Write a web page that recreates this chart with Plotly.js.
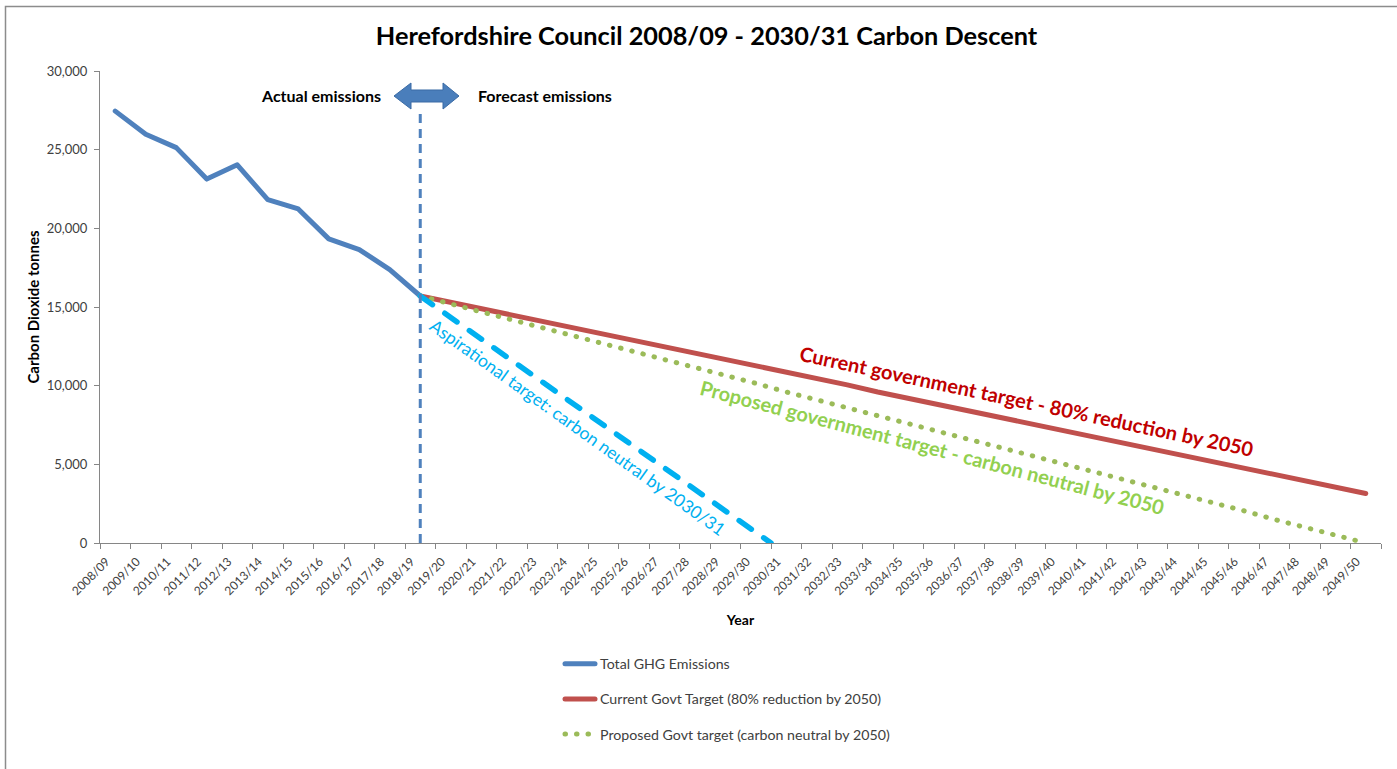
<!DOCTYPE html>
<html>
<head>
<meta charset="utf-8">
<script src="https://cdn.plot.ly/plotly-3.0.1.min.js"></script>
<style>
  html, body { margin: 0; padding: 0; background: #ffffff; }
  #chart { width: 1397px; height: 769px; }
  .js-line { stroke-linecap: round; stroke-linejoin: round; }
</style>
</head>
<body>
<div id="chart"></div>
<script>
// ---------------- DATA ----------------
const years = ["2008/09","2009/10","2010/11","2011/12","2012/13","2013/14","2014/15","2015/16","2016/17","2017/18",
  "2018/19","2019/20","2020/21","2021/22","2022/23","2023/24","2024/25","2025/26","2026/27","2027/28",
  "2028/29","2029/30","2030/31","2031/32","2032/33","2033/34","2034/35","2035/36","2036/37","2037/38",
  "2038/39","2039/40","2040/41","2041/42","2042/43","2043/44","2044/45","2045/46","2046/47","2047/48",
  "2048/49","2049/50"];

// Actual emissions 2008/09 - 2018/19
const actualYears = years.slice(0, 11);
const actualEmissions = [27450, 25980, 25130, 23130, 24040, 21820, 21230, 19330, 18650, 17380, 15700];

// Forecasts 2018/19 - 2049/50
const forecastYears = years.slice(10);
const currentGovtTarget = [15700, 15300, 14900, 14500, 14100, 13700, 13250, 12850, 12450, 12050,
  11650, 11250, 10850, 10450, 10050, 9600, 9200, 8800, 8400, 8000,
  7600, 7200, 6800, 6400, 6000, 5550, 5150, 4750, 4350, 3950, 3550, 3150];
const proposedGovtTarget = [15700, 15200, 14700, 14200, 13700, 13150, 12650, 12150, 11650, 11150,
  10650, 10150, 9600, 9100, 8600, 8100, 7600, 7100, 6600, 6100,
  5550, 5050, 4550, 4050, 3550, 3050, 2550, 2050, 1500, 1000, 500, 0];

// Aspirational target: drawn from 2018/19 down to zero at the start of 2030/31 (category-index positions)
const aspirationalPos = [10, 21.5];
const aspirationalValues = [15700, 0];

const yTicks = [0, 5000, 10000, 15000, 20000, 25000, 30000];

// ---------------- LAYOUT HELPERS ----------------
const W = 1397, H = 769;
const M = { l: 100, r: 16, t: 71, b: 226 };
const PW = W - M.l - M.r, PH = H - M.t - M.b;
const px = x => (x - M.l) / PW;
const py = y => (H - M.b - y) / PH;

const FONT = "Lato, 'Open Sans', sans-serif";
const BLUE = "#4F81BD", RED = "#C0504D", GREEN = "#9BBB59", CYAN = "#00B0F0";

const traces = [
  { x: actualYears, y: actualEmissions, name: "Total GHG Emissions", type: "scatter", mode: "lines",
    line: { color: BLUE, width: 5 }, legendgroup: "a" },
  { x: forecastYears, y: currentGovtTarget, name: "Current Govt Target (80% reduction by 2050)", type: "scatter", mode: "lines",
    line: { color: RED, width: 5 }, legendgroup: "b" },
  { x: forecastYears, y: proposedGovtTarget, name: "Proposed Govt target (carbon neutral by 2050)", type: "scatter", mode: "lines",
    line: { color: GREEN, width: 5, dash: "0.5px,11px" }, legendgroup: "c" },
  { x: aspirationalPos, y: aspirationalValues, xaxis: "x2", name: "Aspirational target", type: "scatter", mode: "lines",
    line: { color: CYAN, width: 5.5, dash: "15px,15px" }, showlegend: false }
];

// arrow path (pixel coords -> paper)
function P(pts) {
  return pts.map((p, i) => (i === 0 ? "M" : "L") + px(p[0]).toFixed(5) + "," + py(p[1]).toFixed(5)).join(" ") + " Z";
}
const arrowPath = P([[394,96],[411,83],[411,90],[443,90],[443,83],[459,96],[443,109],[443,102],[411,102],[411,109]]);

const layout = {
  width: W, height: H,
  margin: M,
  paper_bgcolor: "#ffffff", plot_bgcolor: "#ffffff",
  font: { family: FONT, color: "#404040" },
  title: { text: "<b>Herefordshire Council 2008/09 - 2030/31 Carbon Descent</b>",
    font: { size: 25.3, color: "#000000", family: FONT },
    xref: "container", yref: "container", x: 706.5 / W, y: 1 - 36 / H, xanchor: "center", yanchor: "middle" },
  xaxis: {
    type: "category", categoryorder: "array", categoryarray: years,
    range: [-0.5, 41.5], tickson: "boundaries", ticks: "outside", ticklen: 5, tickcolor: "#868686",
    showline: true, linecolor: "#868686", linewidth: 1, showgrid: false, zeroline: false,
    tickangle: -45, tickfont: { size: 12, color: "#404040" },
    ticklabelstandoff: 6, ticklabelshift: -9,
    title: { text: "<b>Year</b>", font: { size: 14, color: "#000000" }, standoff: 18 }
  },
  xaxis2: { overlaying: "x", range: [-0.5, 41.5], visible: false, type: "linear" },
  yaxis: {
    range: [0, 30000], tickvals: yTicks, tickformat: ",", ticks: "outside", ticklen: 5, tickcolor: "#868686",
    showline: true, linecolor: "#868686", linewidth: 1, showgrid: false, zeroline: false,
    tickfont: { size: 13, color: "#404040" }, ticklabelstandoff: 4,
    title: { text: "<b>Carbon Dioxide tonnes</b>", font: { size: 15, color: "#000000" }, standoff: 3 }
  },
  showlegend: true,
  legend: { x: px(560), y: py(648), xanchor: "left", yanchor: "top", orientation: "v",
    font: { size: 14.2, color: "#404040" }, tracegroupgap: 13.7, bgcolor: "rgba(0,0,0,0)" },
  shapes: [
    { type: "line", xref: "x", yref: "y", x0: "2018/19", x1: "2018/19", y0: 0, y1: 27300,
      line: { color: BLUE, width: 3, dash: "9px,6px" } },
    { type: "path", xref: "paper", yref: "paper", path: arrowPath, fillcolor: "#4A7EBB",
      line: { color: "#3A6BA5", width: 1 } },
    { type: "path", xref: "paper", yref: "paper",
      path: "M" + px(5.5) + "," + py(800) + " L" + px(5.5) + "," + py(6.5) + " L" + px(1420) + "," + py(6.5),
      line: { color: "#8C8C8C", width: 1.5 } }
  ],
  annotations: [
    { text: "<b>Actual emissions</b>", xref: "paper", yref: "paper", x: px(321), y: py(96),
      xanchor: "center", yanchor: "middle", showarrow: false, font: { size: 16, color: "#000000" } },
    { text: "<b>Forecast emissions</b>", xref: "paper", yref: "paper", x: px(545), y: py(96),
      xanchor: "center", yanchor: "middle", showarrow: false, font: { size: 16, color: "#000000" } },
    { text: "<b>Current government target - 80% reduction by 2050</b>", xref: "paper", yref: "paper",
      x: px(1027), y: py(401), xanchor: "center", yanchor: "middle", textangle: 12, showarrow: false,
      font: { size: 20, color: "#C00000" } },
    { text: "<b>Proposed government target - carbon neutral by 2050</b>", xref: "paper", yref: "paper",
      x: px(932), y: py(447), xanchor: "center", yanchor: "middle", textangle: 14.6, showarrow: false,
      font: { size: 20, color: "#92D050" } },
    { text: "Aspirational target: carbon neutral by 2030/31", xref: "paper", yref: "paper",
      x: px(578), y: py(427), xanchor: "center", yanchor: "middle", textangle: 35.5, showarrow: false,
      font: { size: 17.5, color: CYAN } }
  ]
};

Plotly.newPlot("chart", traces, layout, { displayModeBar: false, staticPlot: true });
</script>
</body>
</html>
